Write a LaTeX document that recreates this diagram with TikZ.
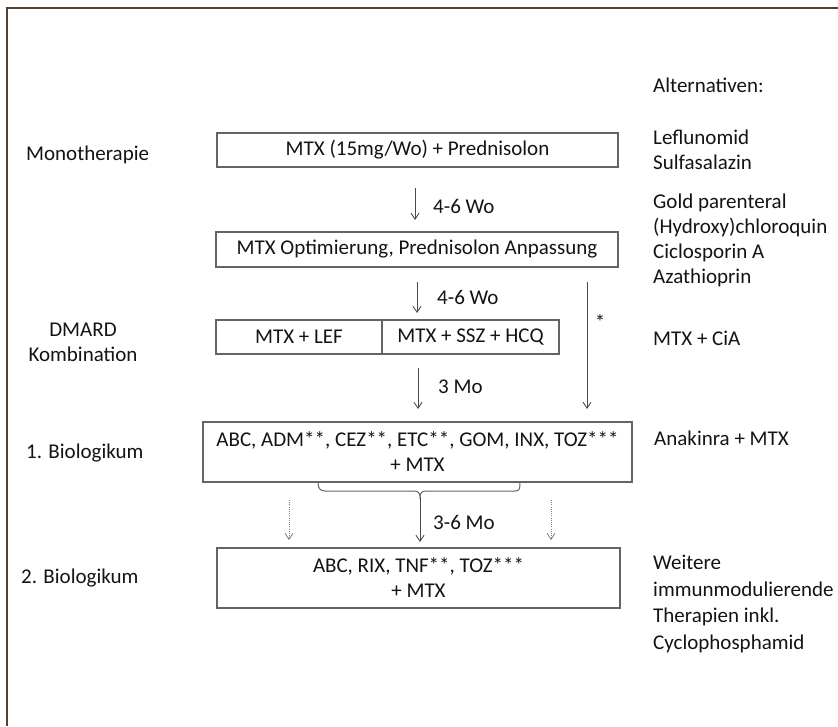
\documentclass[tikz,border=0pt]{standalone}
\usepackage{fontspec}
\setmainfont{Carlito}
\usetikzlibrary{arrows.meta,calc}
\definecolor{boxgray}{RGB}{100,100,100}
\definecolor{arrgray}{RGB}{75,75,75}
\definecolor{framebrown}{RGB}{88,62,52}
\definecolor{txt}{RGB}{20,20,20}
\begin{document}
\begin{tikzpicture}[x=1pt,y=-1pt,
  font=\fontsize{21}{25}\selectfont,
  every node/.style={text=txt},
  stepbox/.style={draw=boxgray,line width=1.2pt,inner sep=0pt,align=center},
  lab/.style={inner sep=0pt,anchor=west,align=left},
  arr/.style={draw=arrgray,line width=0.9pt,-{Straight Barb[length=6pt,width=8pt]}},
  dotarr/.style={draw=arrgray!70,line width=0.8pt,dash pattern=on 1pt off 1.2pt,-{Straight Barb[length=6pt,width=8pt]}},
  brace/.style={draw=boxgray,line width=1pt}]
\useasboundingbox (0,0) rectangle (838,726);
\fill[white] (0,0) rectangle (838,726);
% frame
\draw[framebrown,line width=2pt] (7,726) -- (7,8) -- (838,8);

% boxes
\node[stepbox,minimum width=401pt,minimum height=34pt] (b1) at (417.5,150) {MTX (15mg/Wo) + Prednisolon};
\node[stepbox,minimum width=402pt,minimum height=35pt] (b2) at (417,249.5) {MTX Optimierung, Prednisolon Anpassung};
\node[stepbox,minimum width=166pt,minimum height=34pt] (b3a) at (299,337) {MTX + LEF};
\node[stepbox,minimum width=177pt,minimum height=34pt] (b3b) at (470.5,337) {MTX + SSZ + HCQ};
\node[stepbox,minimum width=429pt,minimum height=60pt] (b4) at (417.5,452) {ABC, ADM**, CEZ**, ETC**, GOM, INX, TOZ***\\+ MTX};
\node[stepbox,minimum width=403pt,minimum height=60pt] (b5) at (418.5,578) {ABC, RIX, TNF**, TOZ***\\+ MTX};

% left labels
\node[lab] (l1) at (26,155) {Monotherapie};
\node[inner sep=0pt,align=center] (l2) at (83,342) {DMARD\\Kombination};
\node[lab] (l3) at (26,453) {1. Biologikum};
\node[lab] (l4) at (21,578) {2. Biologikum};

% right column
\node[lab] (r0) at (653,85) {Alternativen:};
\node[lab] (r1) at (653,149.5) {Leflunomid\\Sulfasalazin};
\node[lab] (r2) at (653,240.5) {Gold parenteral\\(Hydroxy)chloroquin\\Ciclosporin A\\Azathioprin};
\node[lab] (r3) at (653,338) {MTX + CiA};
\node[lab] (r4) at (654,438) {Anakinra + MTX};
\node[lab,font=\fontsize{21}{26.5}\selectfont] (r5) at (653,604) {Weitere\\immunmodulierende\\Therapien inkl.\\Cyclophosphamid};

% arrows
\coordinate (a1s) at (415,188); \coordinate (a1e) at (415,220);
\draw[arr] (a1s) -- (a1e);
\node[lab] (t1) at (433,206) {4-6 Wo};

\coordinate (a2s) at (417,282); \coordinate (a2e) at (417,313);
\draw[arr] (a2s) -- (a2e);
\node[lab] (t2) at (437,297) {4-6 Wo};

\coordinate (a3s) at (418,368); \coordinate (a3e) at (418,409);
\draw[arr] (a3s) -- (a3e);
\node[lab] (t3) at (438,387) {3 Mo};

\coordinate (a4s) at (587,282); \coordinate (a4e) at (587,409);
\draw[arr] (a4s) -- (a4e);
\node[inner sep=0pt] (star) at (600,322) {*};

% brace
\coordinate (bt) at (420,497);
\draw[brace] (318,482.5) .. controls (318,488) and (320,491) .. (325,491) -- (414,491)
  .. controls (418,491) and (420,493) .. (bt)
  .. controls (420,493) and (422,491) .. (426,491) -- (515,491)
  .. controls (520,491) and (520,488) .. (520,482.5);
\coordinate (a5e) at (420,542);
\draw[arr] (bt) -- (a5e);
\node[lab] (t4) at (433,522) {3-6 Mo};

\coordinate (d1s) at (289,500); \coordinate (d1e) at (289,540);
\coordinate (d2s) at (551,500); \coordinate (d2e) at (551,540);
\draw[dotarr] (d1s) -- (d1e);
\draw[dotarr] (d2s) -- (d2e);
\end{tikzpicture}
\end{document}
